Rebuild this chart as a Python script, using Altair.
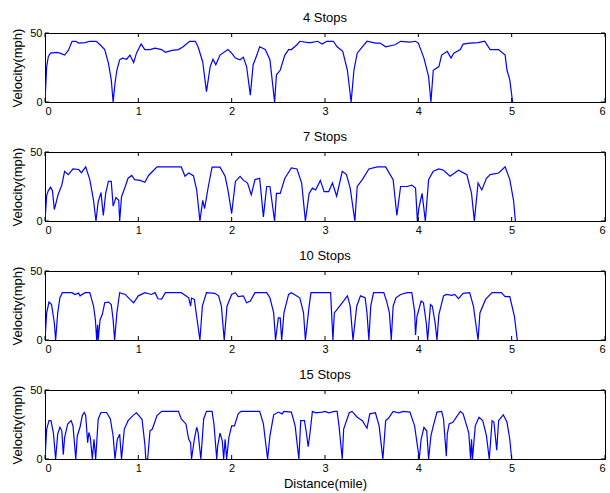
import altair as alt
import pandas as pd

# ---- data (distance in miles, velocity in mph) ----
dist_4 = [0, 0.018, 0.036, 0.06, 0.125, 0.16, 0.21, 0.25, 0.29, 0.33, 0.36, 0.43, 0.48, 0.55, 0.59, 0.64, 0.68, 0.71, 0.73,
          0.75, 0.77, 0.80, 0.83, 0.875, 0.91, 0.95, 0.98, 1.03, 1.07, 1.125, 1.18, 1.25, 1.29, 1.36, 1.43, 1.48, 1.55, 1.61, 1.64, 1.69, 1.73,
          1.77, 1.80, 1.83, 1.875, 1.96, 2.0, 2.04, 2.09, 2.125, 2.16, 2.20,
          2.23, 2.27, 2.30, 2.36, 2.41, 2.46,
          2.48, 2.52, 2.57, 2.61, 2.64, 2.70, 2.73, 2.82, 2.85, 2.92, 2.97, 3.02, 3.09, 3.13, 3.19, 3.24, 3.28,
          3.31, 3.345, 3.40, 3.45, 3.54, 3.59, 3.65, 3.75, 3.81, 3.91, 3.97, 4.0, 4.06, 4.11, 4.135,
          4.16, 4.22, 4.25, 4.31, 4.35, 4.38, 4.45, 4.48, 4.55, 4.64, 4.71, 4.77, 4.86, 4.93, 4.95, 4.98, 5.01]
vel_4 = [0, 25.7, 33, 35.4, 36, 35.4, 34, 37.4, 44, 44, 42.7, 43, 44, 44, 41.5, 38, 28, 16, 0,
         13.6, 23, 30.6, 31.8, 31, 34, 28.6, 35.4, 42, 38, 38, 39, 38, 36, 37.4, 38, 40, 44, 44, 40, 29, 7.5,
         25.7, 31, 27, 34, 38, 35.4, 31.8, 30.6, 32.5, 25.7, 5,
         27, 34, 40, 38, 30.6, 0,
         19.7, 23, 34, 38, 38, 41.5, 44, 43, 43, 44, 42, 44, 44, 40, 36.7, 23, 0,
         23, 35.4, 40, 44, 42.7, 42.7, 40, 41.5, 44, 43.4, 44, 42.7, 31.8, 18.4, 0,
         23, 25.7, 34, 36.7, 31.8, 35.4, 38, 42, 42.7, 43, 44, 38, 38, 34, 23, 16, 0]

dist_7 = [0, 0.018, 0.036, 0.06, 0.08, 0.1, 0.125, 0.14, 0.18, 0.21, 0.25, 0.30, 0.36, 0.39, 0.436, 0.48, 0.52, 0.546,
          0.57, 0.60, 0.625, 0.65, 0.68, 0.71, 0.73, 0.76, 0.79, 0.80,
          0.82, 0.86, 0.89, 0.93, 0.96, 1.02, 1.07, 1.11, 1.20, 1.46, 1.5, 1.54, 1.59, 1.625, 1.66,
          1.69, 1.71, 1.75, 1.79, 1.875, 1.93, 1.96, 2.0, 2.04, 2.09, 2.125, 2.17, 2.21, 2.25, 2.30, 2.34,
          2.375, 2.41, 2.46, 2.48, 2.52, 2.57, 2.64, 2.70, 2.75, 2.79,
          2.83, 2.865, 2.9, 2.95, 2.99, 3.04, 3.08, 3.125, 3.185, 3.23, 3.27, 3.32,
          3.345, 3.40, 3.47, 3.56, 3.65, 3.73, 3.77, 3.81, 3.88, 3.93, 3.97, 3.99, 4.005, 4.04, 4.075,
          4.11, 4.16, 4.22, 4.27, 4.34, 4.43, 4.52, 4.57, 4.60,
          4.64, 4.68, 4.73, 4.77, 4.86, 4.93, 4.98, 5.02, 5.04]
vel_7 = [0, 18.6, 22, 24.5, 22, 8.3, 15, 19, 26, 36, 33.6, 37.7, 37.3, 35, 39.2, 30, 15, 0,
         14, 20.6, 4, 20, 28.7, 28.7, 10.8, 17, 15, 0,
         17.6, 25, 31, 33, 30, 29.4, 28, 33, 39.2, 39.2, 32.4, 34.8, 32.8, 22.5, 0,
         15, 9, 25, 39, 39, 32.4, 22.5, 5.4, 28.7, 32.4, 29.6, 27.5, 19, 30, 31, 3,
         25, 25, 0, 20, 20, 31, 38.5, 37.7, 27.5, 0,
         20, 23.8, 22.5, 29.4, 21.3, 21.3, 27.5, 18, 36, 33.6, 23.8, 0,
         25, 30, 37.7, 39.2, 39.2, 30, 4, 25, 25, 26, 23.8, 0, 9, 20, 0,
         30, 36, 37.7, 36.8, 32.4, 36.8, 33.6, 20, 0,
         27.5, 22.5, 31, 33.6, 34.8, 39.2, 30, 15, 0]

dist_10 = [0, 0.018, 0.043, 0.07, 0.10, 0.114, 0.136, 0.16, 0.186, 0.29, 0.32, 0.36, 0.375, 0.43, 0.48, 0.52, 0.54, 0.554,
           0.564, 0.57, 0.59, 0.614, 0.64, 0.68, 0.71, 0.73, 0.746,
           0.77, 0.80, 0.86, 0.91, 0.95, 1.0, 1.07, 1.14, 1.18, 1.21, 1.25, 1.29, 1.46, 1.54, 1.56, 1.57, 1.60, 1.625, 1.66,
           1.686, 1.73, 1.82, 1.86, 1.89, 1.92,
           1.95, 2.0, 2.04, 2.07, 2.125, 2.16, 2.2, 2.25, 2.375, 2.41, 2.45, 2.47, 2.5, 2.52, 2.536,
           2.56, 2.61, 2.64, 2.73, 2.77, 2.79,
           2.83, 2.85, 3.06, 3.085, 3.10, 3.17, 3.24, 3.27, 3.30, 3.34, 3.38, 3.43, 3.45, 3.47,
           3.49, 3.52, 3.63, 3.66, 3.69, 3.71, 3.73, 3.76, 3.81, 3.88, 3.93, 3.96, 3.97, 3.985, 4.03, 4.055, 4.085, 4.10,
           4.13, 4.15, 4.18, 4.20, 4.22, 4.27, 4.30, 4.36, 4.39, 4.43, 4.48, 4.55, 4.59, 4.61, 4.64,
           4.66, 4.72, 4.79, 4.89, 4.93, 4.98, 5.03, 5.06]
vel_10 = [0, 19.6, 27.5, 25.7, 12.3, 0, 19.6, 30.6, 34.3, 34.3, 33, 34, 32, 34.3, 34.3, 24.5, 14.7, 0,
          11, 0, 14.7, 18.4, 27, 27.5, 25.7, 14.7, 0,
          19.6, 34.3, 33, 29.4, 27, 32, 34.3, 33, 34.3, 29.9, 29.6, 34.3, 34.3, 30.6, 24.5, 30.4, 29.4, 17, 0,
          24.5, 34.3, 33.8, 32, 24.5, 0,
          24.5, 33, 34.3, 31.4, 32, 27, 28.2, 34.3, 34.3, 30.6, 19.6, 0, 16, 16, 0,
          19.6, 33, 34.3, 30.6, 19.6, 0,
          24.5, 34.3, 34.3, 0, 19.6, 25.7, 32, 24.5, 0, 24.5, 32, 30.6, 19.6, 0,
          24.5, 34.3, 34.3, 28.2, 19.6, 0, 24.5, 30.6, 33, 34.3, 34.3, 20.8, 3.7, 17, 28.2, 27, 12.3, 0,
          25.7, 24.5, 12.3, 0, 18.4, 32, 33, 32.4, 33, 30, 33.8, 34.3, 24.5, 14.7, 0,
          19.6, 29.4, 34.3, 34.3, 31.4, 31.4, 17, 0]

dist_15 = [0, 0.018, 0.043, 0.064, 0.09, 0.114, 0.136, 0.16, 0.18, 0.196, 0.21, 0.243, 0.28, 0.30, 0.33,
           0.346, 0.375, 0.40, 0.42, 0.436, 0.457, 0.47, 0.486, 0.507, 0.525, 0.543,
           0.57, 0.60, 0.66, 0.70, 0.73, 0.75, 0.775, 0.80, 0.82,
           0.85, 0.89, 0.95, 0.98, 1.02, 1.04, 1.07, 1.08, 1.10,
           1.125, 1.15, 1.20, 1.25, 1.43, 1.46, 1.51, 1.54, 1.56, 1.57,
           1.60, 1.625, 1.64, 1.67, 1.70, 1.73, 1.79, 1.81, 1.84, 1.85, 1.875, 1.90, 1.914, 1.93, 1.946,
           1.97, 2.0, 2.03, 2.07, 2.10, 2.30, 2.34, 2.385,
           2.41, 2.45, 2.5, 2.54, 2.56, 2.64, 2.68, 2.72,
           2.74, 2.78, 2.80, 2.82, 2.84, 2.865, 2.90, 2.97, 3.0, 3.04, 3.10, 3.13, 3.15, 3.185,
           3.20, 3.26, 3.29, 3.345, 3.40, 3.45, 3.48, 3.54, 3.58, 3.62,
           3.65, 3.68, 3.73, 3.79, 3.84, 3.91, 3.96, 4.01, 4.03, 4.06, 4.09, 4.11,
           4.135, 4.16, 4.20, 4.25, 4.27, 4.30, 4.31, 4.33, 4.37, 4.45, 4.48, 4.54, 4.56, 4.57, 4.58,
           4.61, 4.65, 4.69, 4.73, 4.76, 4.79, 4.81, 4.84, 4.86, 4.91, 4.95, 4.98, 5.0]
vel_15 = [0, 21.7, 27.8, 27.8, 19, 0, 18, 23, 20.4, 3.2, 15.5, 25.4, 27.8, 24, 0,
          16.7, 23, 31.5, 33.7, 31.5, 11.8, 19.2, 15.5, 0, 14.3, 0,
          29, 33.7, 33.7, 29, 16.7, 0, 14.3, 18, 0,
          21.7, 27.8, 32, 33.5, 30.3, 28.6, 10.6, 0, 0,
          20.4, 21.7, 31.5, 34.5, 34.5, 29, 25.4, 14.3, 11.8, 0,
          14.3, 23, 19.2, 0, 29, 34.5, 34.5, 25.4, 0, 9.4, 18.7, 13, 0, 14.3, 0,
          15.5, 24, 24, 32.7, 34.5, 34.5, 25.4, 0,
          16.7, 32, 34, 32.7, 34.5, 34, 24, 0,
          27.8, 27.8, 19.2, 8.9, 19.2, 34.5, 33.5, 34, 34.5, 33.5, 34.5, 34.5, 24, 0,
          21.7, 33.5, 34.5, 30.3, 27.8, 22.3, 32.7, 33.5, 24, 0,
          27.8, 29.5, 34.5, 33.5, 34.5, 34, 24, 0, 14.3, 23, 20.4, 0,
          16.7, 24, 34, 34.5, 29, 2, 18, 25.4, 26.6, 34.5, 32.7, 19.2, 0, 14.3, 0,
          24, 30.3, 27.8, 16.7, 0, 27.8, 26.6, 6.4, 27.8, 32, 26.6, 14.3, 0]

panels = [("4 Stops", dist_4, vel_4), ("7 Stops", dist_7, vel_7),
          ("10 Stops", dist_10, vel_10), ("15 Stops", dist_15, vel_15)]
x_ticks = [0, 1, 2, 3, 4, 5, 6]
y_ticks = [0, 50]

W, H = 560, 69
FONT = "Liberation Sans"


def panel(title, dist, vel, last):
    df = pd.DataFrame({"d": dist, "v": vel})
    xaxis = alt.Axis(values=x_ticks, ticks=False, labelPadding=3, grid=False,
                     title="Distance(mile)" if last else None, titlePadding=4,
                     labelFontSize=11, titleFontSize=13, format="d")
    yaxis = alt.Axis(values=y_ticks, ticks=False, labelPadding=3, grid=False,
                     title="Velocity(mph)", titlePadding=5, labelFontSize=11,
                     titleFontSize=13)
    xs = alt.Scale(domain=[0, 6], nice=False)
    ys = alt.Scale(domain=[0, 50], nice=False)
    line = alt.Chart(df).mark_line(color="#0000FF", strokeWidth=1.2, clip=True).encode(
        x=alt.X("d:Q", scale=xs, axis=xaxis),
        y=alt.Y("v:Q", scale=ys, axis=yaxis),
    )
    tdf = pd.DataFrame({"t": x_ticks})
    top_t = alt.Chart(tdf).mark_rule(color="black", strokeWidth=1).encode(
        x=alt.X("t:Q", scale=xs), y=alt.value(0), y2=alt.value(4))
    bot_t = alt.Chart(tdf).mark_rule(color="black", strokeWidth=1).encode(
        x=alt.X("t:Q", scale=xs), y=alt.value(H), y2=alt.value(H - 4))
    ydf = pd.DataFrame({"t": y_ticks})
    left_t = alt.Chart(ydf).mark_rule(color="black", strokeWidth=1).encode(
        y=alt.Y("t:Q", scale=ys), x=alt.value(0), x2=alt.value(4))
    right_t = alt.Chart(ydf).mark_rule(color="black", strokeWidth=1).encode(
        y=alt.Y("t:Q", scale=ys), x=alt.value(W), x2=alt.value(W - 4))
    return alt.layer(line, top_t, bot_t, left_t, right_t).properties(
        width=W, height=H,
        title=alt.TitleParams(title, fontSize=13, fontWeight=400, font=FONT,
                              anchor="middle", offset=2, color="black"),
    )


charts = [panel(t, d, v, i == len(panels) - 1) for i, (t, d, v) in enumerate(panels)]

chart = alt.vconcat(*charts, spacing=13).properties(
    padding={"left": 11, "top": 11, "right": 0, "bottom": 0},
    background="white",
).configure_axis(
    labelFont=FONT, titleFont=FONT, labelColor="black", titleColor="black",
    domainColor="black", titleFontWeight="normal",
).configure_title(fontWeight=400).configure_view(stroke="black", strokeWidth=1)

chart.save("out.html", embed_options={"renderer": "svg", "actions": False})
